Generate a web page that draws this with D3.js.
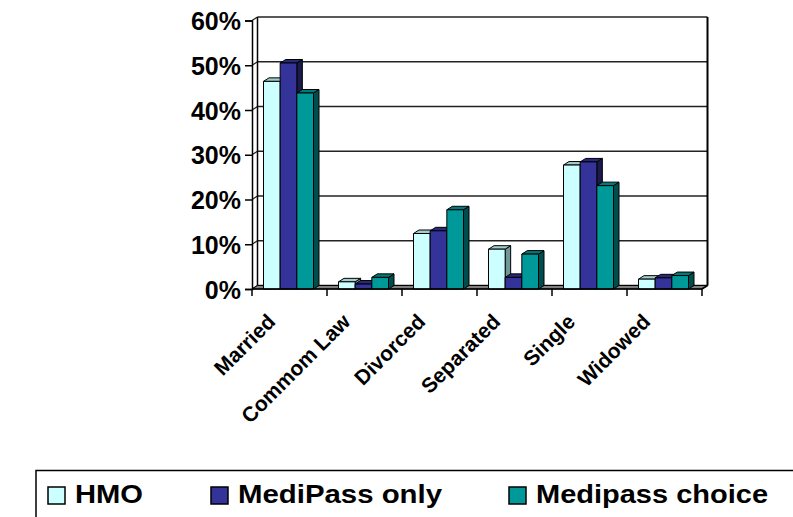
<!DOCTYPE html>
<html>
<head>
<meta charset="utf-8">
<script src="https://cdn.jsdelivr.net/npm/d3@7"></script>
<style>
  body { margin: 0; background: #fff; }
  text { font-family: Arial, "Liberation Sans", sans-serif; font-weight: bold; fill: #000; }
</style>
</head>
<body>
<div id="chart"></div>
<script>
// data (percent)
var categories = ["Married", "Commom Law", "Divorced", "Separated", "Single", "Widowed"];
var seriesNames = ["HMO", "MediPass only", "Medipass choice"];
var hmo = [46.4, 1.6, 12.4, 8.9, 27.7, 2.2];
var medipassOnly = [50.5, 1.1, 13.0, 2.6, 28.4, 2.5];
var medipassChoice = [43.8, 2.6, 17.7, 7.8, 23.1, 3.0];
var yTicks = [0, 10, 20, 30, 40, 50, 60];

var seriesValues = [hmo, medipassOnly, medipassChoice];
var faceColors = [
  { front: "#ccffff", top: "#a3cccc", side: "#6f9999" },
  { front: "#333399", top: "#29297a", side: "#1a1a4d" },
  { front: "#009999", top: "#007a7a", side: "#004d4d" }
];

var W = 793, H = 517;
var dx = 5.5, dy = -3.5;   // depth offset of the 3D look

var svg = d3.select("#chart")
  .append("svg")
  .attr("width", W)
  .attr("height", H);

svg.append("rect").attr("width", W).attr("height", H).attr("fill", "#fff");

var x = d3.scaleBand()
  .domain(categories)
  .range([252, 702])
  .paddingInner(0)
  .paddingOuter(0);

var y = d3.scaleLinear()
  .domain([0, 60])
  .range([289, 20.5]);

// series inside a category
var xs = d3.scaleBand()
  .domain(d3.range(seriesNames.length))
  .range([11.5, 61.5]);

var x0 = x.range()[0], x1 = x.range()[1];

// back wall gridlines + side wall diagonals
var grid = svg.append("g");
yTicks.forEach(function(t) {
  grid.append("line")
    .attr("x1", x0 + dx).attr("x2", x1 + dx)
    .attr("y1", y(t) + dy).attr("y2", y(t) + dy)
    .attr("stroke", "#222").attr("stroke-width", 1.5);
  grid.append("line")
    .attr("x1", x0).attr("x2", x0 + dx)
    .attr("y1", y(t)).attr("y2", y(t) + dy)
    .attr("stroke", "#222").attr("stroke-width", 1.2);
});

// walls edges
svg.append("line")
  .attr("x1", x0 + dx).attr("x2", x0 + dx)
  .attr("y1", y(0) + dy).attr("y2", y(60) + dy)
  .attr("stroke", "#000").attr("stroke-width", 1.5);
svg.append("line")
  .attr("x1", x1 + dx).attr("x2", x1 + dx)
  .attr("y1", y(0) + dy).attr("y2", y(60) + dy)
  .attr("stroke", "#000").attr("stroke-width", 2);

// floor
svg.append("polygon")
  .attr("points", [[x0, y(0)], [x1, y(0)], [x1 + dx, y(0) + dy], [x0 + dx, y(0) + dy]].join(" "))
  .attr("fill", "#808080")
  .attr("stroke", "#000")
  .attr("stroke-width", 1);

// bars
var bars = svg.append("g");
categories.forEach(function(c, i) {
  seriesValues.forEach(function(vals, s) {
    var left = x(c) + xs(s), w = xs.bandwidth();
    var yt = y(vals[i]), yb = y(0);
    var col = faceColors[s];
    var g = bars.append("g").attr("stroke", "#000").attr("stroke-width", 1).attr("stroke-linejoin", "round");
    g.append("polygon")
      .attr("points", [[left + w, yb], [left + w + dx, yb + dy], [left + w + dx, yt + dy], [left + w, yt]].join(" "))
      .attr("fill", col.side);
    g.append("polygon")
      .attr("points", [[left, yt], [left + w, yt], [left + w + dx, yt + dy], [left + dx, yt + dy]].join(" "))
      .attr("fill", col.top);
    g.append("rect")
      .attr("x", left).attr("y", yt)
      .attr("width", w).attr("height", yb - yt)
      .attr("fill", col.front);
  });
});

// front y axis
var yAxis = svg.append("g")
  .attr("transform", "translate(" + x0 + ",0)")
  .call(d3.axisLeft(y).tickValues(yTicks).tickSize(7).tickPadding(4)
    .tickFormat(function(d) { return d + "%"; }));
yAxis.select(".domain").attr("stroke", "#000").attr("stroke-width", 1.5);
yAxis.selectAll(".tick line").attr("stroke", "#000").attr("stroke-width", 1.5);
yAxis.selectAll(".tick text")
  .attr("font-size", 25)
  .attr("font-family", "Arial, 'Liberation Sans', sans-serif")
  .attr("font-weight", "bold")
  .attr("dy", "0.36em");

// front x axis line and category ticks
var xAxis = svg.append("g")
  .attr("transform", "translate(0," + y(0) + ")");
xAxis.append("line")
  .attr("x1", x0).attr("x2", x1)
  .attr("stroke", "#000").attr("stroke-width", 1.5);
xAxis.append("line")
  .attr("x1", x1).attr("x2", x1 + dx).attr("y1", 0).attr("y2", dy)
  .attr("stroke", "#000").attr("stroke-width", 1.5);
xAxis.selectAll(".xt")
  .data(categories.concat(["end"]))
  .enter().append("line")
  .attr("x1", function(d, i) { return x0 + i * x.bandwidth(); })
  .attr("x2", function(d, i) { return x0 + i * x.bandwidth(); })
  .attr("y1", 0).attr("y2", 7)
  .attr("stroke", "#000").attr("stroke-width", 1.5);

// rotated category labels
svg.append("g").selectAll("text")
  .data(categories)
  .enter().append("text")
  .attr("font-size", 21)
  .attr("text-anchor", "end")
  .attr("transform", function(d) {
    return "translate(" + (x(d) + x.bandwidth() / 2 - 13) + ",323) rotate(-45)";
  })
  .text(function(d) { return d; });

// legend
var legend = svg.append("g");
legend.append("rect")
  .attr("x", 36).attr("y", 470.5)
  .attr("width", 800).attr("height", 100)
  .attr("fill", "#fff").attr("stroke", "#000").attr("stroke-width", 1.5);

var legendX = [48, 211, 509];
var legendW = [68, 204, 232];
seriesNames.forEach(function(n, s) {
  legend.append("rect")
    .attr("x", legendX[s]).attr("y", 487)
    .attr("width", 17).attr("height", 17)
    .attr("fill", faceColors[s].front)
    .attr("stroke", "#000").attr("stroke-width", 1.5);
  legend.append("text")
    .attr("x", legendX[s] + 27).attr("y", 503)
    .attr("font-size", 26)
    .attr("textLength", legendW[s])
    .attr("lengthAdjust", "spacingAndGlyphs")
    .text(n);
});
</script>
</body>
</html>
